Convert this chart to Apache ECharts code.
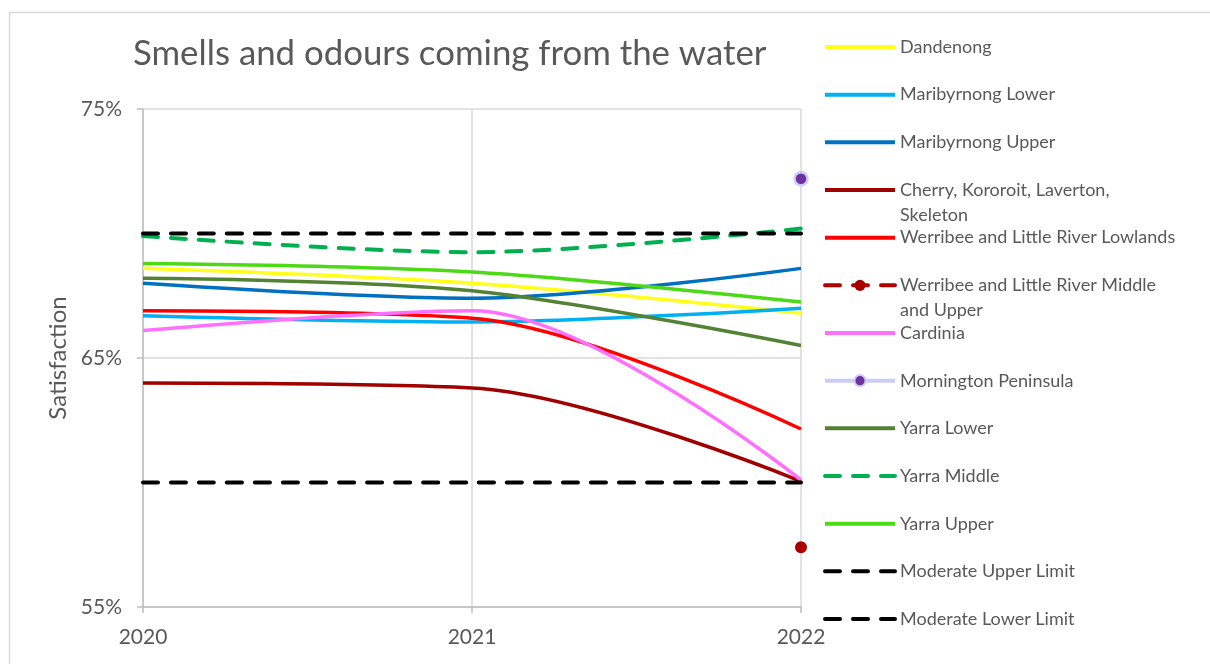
<!DOCTYPE html>
<html>
<head>
<meta charset="utf-8">
<script src="https://cdn.jsdelivr.net/npm/echarts@6/dist/echarts.min.js"></script>
<style>
  html, body { margin: 0; padding: 0; background: #fff; }
  #chart { width: 1210px; height: 664px; }
</style>
</head>
<body>
<div id="chart"></div>
<script>
var years = ['2020', '2021', '2022']
var yTicks = [55, 65, 75]

var dandenong = [68.6, 68.0, 66.8]
var maribyrnongLower = [66.7, 66.45, 67.0]
var maribyrnongUpper = [68.0, 67.4, 68.6]
var cherry = [64.0, 63.8, 60.05]
var werribeeLowlands = [66.9, 66.6, 62.15]
var werribeeMiddleUpper = [null, null, 57.4]
var cardinia = [66.1, 66.9, 60.1]
var mornington = [null, null, 72.2]
var yarraLower = [68.2, 67.7, 65.5]
var yarraMiddle = [69.9, 69.25, 70.2]
var yarraUpper = [68.8, 68.45, 67.25]
var upperLimit = [70, 70, 70]
var lowerLimit = [60, 60, 60]

// legend text that wraps onto a second line in the original
var wrapped = {
  'Cherry, Kororoit, Laverton, Skeleton': 'Cherry, Kororoit, Laverton,\nSkeleton',
  'Werribee and Little River Middle and Upper': 'Werribee and Little River Middle\nand Upper'
}

var font = 'Lato'
var grey = '#595959'
var dashPattern = [15, 13]

function lineSeries(name, data, color, dash) {
  return {
    name: name,
    type: 'line',
    data: data,
    smooth: 0.33,
    symbol: 'none',
    lineStyle: { color: color, width: dash ? 4 : 3.5, type: dash ? dashPattern : 'solid', cap: dash ? 'round' : 'butt' },
    itemStyle: { color: color }
  }
}

var series = [
  lineSeries('Dandenong', dandenong, '#FFFF1A'),
  lineSeries('Maribyrnong Lower', maribyrnongLower, '#00B0F0'),
  lineSeries('Maribyrnong Upper', maribyrnongUpper, '#0070C0'),
  lineSeries('Cherry, Kororoit, Laverton, Skeleton', cherry, '#A00000'),
  lineSeries('Werribee and Little River Lowlands', werribeeLowlands, '#FF0000'),
  {
    name: 'Werribee and Little River Middle and Upper',
    type: 'line',
    data: werribeeMiddleUpper,
    symbol: 'circle',
    symbolSize: 12,
    lineStyle: { color: '#B00000', width: 4, type: dashPattern, cap: 'round' },
    itemStyle: { color: '#A80000' }
  },
  lineSeries('Cardinia', cardinia, '#FF70FF'),
  {
    name: 'Mornington Peninsula',
    type: 'line',
    data: mornington,
    symbol: 'circle',
    symbolSize: 13,
    lineStyle: { color: '#CCCCF8', width: 4 },
    itemStyle: { color: '#7030A0', borderColor: '#CCCCF8', borderWidth: 2.5 }
  },
  lineSeries('Yarra Lower', yarraLower, '#548235'),
  lineSeries('Yarra Middle', yarraMiddle, '#00B050', true),
  lineSeries('Yarra Upper', yarraUpper, '#4CD916'),
  lineSeries('Moderate Upper Limit', upperLimit, '#000000', true),
  lineSeries('Moderate Lower Limit', lowerLimit, '#000000', true)
]

// one legend per entry so wrapped labels don't push the rows apart
var legends = series.map(function (s, i) {
  var center = 47 + i * 47.67
  var lines = wrapped[s.name] ? 3 : 1
  var item = {
    name: s.name,
    lineStyle: { width: 4, type: s.lineStyle.type, cap: s.lineStyle.cap || 'butt' }
  }
  if (s.symbol === 'none') item.itemStyle = { opacity: 0 }
  return {
    orient: 'vertical',
    left: 823,
    top: center - 12.5 * lines,
    padding: 0,
    itemWidth: 70,
    itemHeight: 14,
    data: [item],
    formatter: function (name) { return wrapped[name] ? '\n' + wrapped[name] : name },
    textStyle: { fontFamily: font, fontSize: 18, color: grey, lineHeight: 25 }
  }
})

var chart = echarts.init(document.getElementById('chart'))

var option = {
  animation: false,
  backgroundColor: '#fff',
  graphic: [{
    type: 'rect',
    left: 7, top: 10,
    shape: { width: 1230, height: 700 },
    style: { fill: 'none', stroke: '#D9D9D9', lineWidth: 1.5 },
    silent: true
  }],
  title: {
    text: 'Smells and odours coming from the water',
    left: 128,
    top: 31,
    textStyle: { fontFamily: font, fontSize: 34.8, fontWeight: 'normal', color: grey }
  },
  legend: legends,
  grid: { left: 143, right: 409, top: 109, bottom: 57 },
  xAxis: {
    type: 'category',
    data: years,
    boundaryGap: false,
    axisLine: { lineStyle: { color: '#BFBFBF', width: 1.5 } },
    axisTick: { show: true, length: 6, lineStyle: { color: '#BFBFBF', width: 1.5 } },
    splitLine: { show: true, lineStyle: { color: '#D9D9D9', width: 1.5 } },
    axisLabel: { fontFamily: font, fontSize: 21, color: grey, margin: 20 }
  },
  yAxis: {
    type: 'value',
    min: yTicks[0],
    max: yTicks[yTicks.length - 1],
    interval: 10,
    name: 'Satisfaction',
    nameLocation: 'middle',
    nameGap: 71,
    nameTextStyle: { fontFamily: font, fontSize: 24, color: grey },
    axisLine: { show: true, lineStyle: { color: '#BFBFBF', width: 1.5 } },
    axisTick: { show: true, length: 6, lineStyle: { color: '#BFBFBF', width: 1.5 } },
    splitLine: { show: true, lineStyle: { color: '#D9D9D9', width: 1.5 } },
    axisLabel: { fontFamily: font, fontSize: 21, color: grey, margin: 21, formatter: '{value}%' }
  },
  series: series
}

chart.setOption(option)
</script>
</body>
</html>
